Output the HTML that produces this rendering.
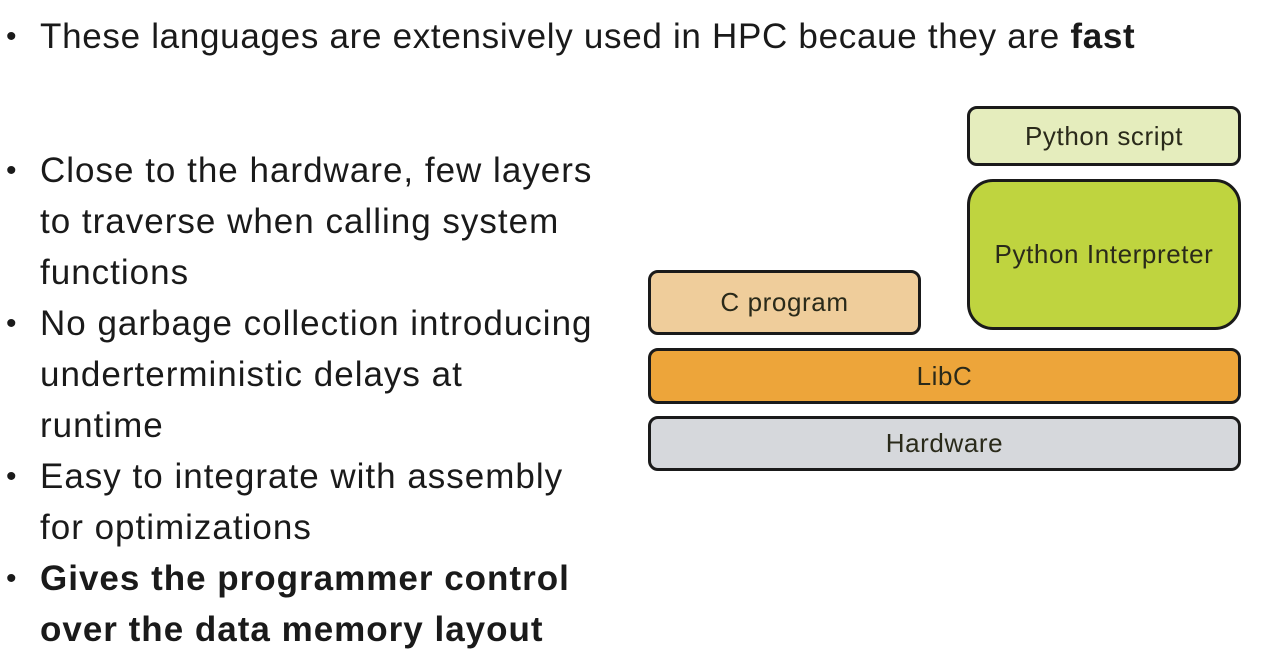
<!DOCTYPE html>
<html><head><style>
body{margin:0;width:1264px;height:666px;background:#fff;position:relative;overflow:hidden;font-family:"Liberation Sans",sans-serif;color:#1a1a1a}
.l{position:absolute;left:40px;font-size:35px;letter-spacing:1px;line-height:51px;white-space:nowrap}
.b{position:absolute;left:6px;font-size:30px;line-height:51px}
.box{position:absolute;box-sizing:border-box;border:3px solid #1a1a1a;border-radius:10px;display:flex;align-items:center;justify-content:center;font-size:26px;letter-spacing:0.6px;color:#2a2a1a}
</style></head><body>
<div class="b" style="top:11px">•</div><div class="l" style="top:11px;letter-spacing:0.7px">These languages are extensively used in HPC becaue they are <b>fast</b></div>
<div class="b" style="top:145px">•</div><div class="l" style="top:145px">Close to the hardware, few layers</div>
<div class="l" style="top:196px">to traverse when calling system</div>
<div class="l" style="top:247px">functions</div>
<div class="b" style="top:298px">•</div><div class="l" style="top:298px">No garbage collection introducing</div>
<div class="l" style="top:349px">underterministic delays at</div>
<div class="l" style="top:400px">runtime</div>
<div class="b" style="top:451px">•</div><div class="l" style="top:451px">Easy to integrate with assembly</div>
<div class="l" style="top:502px">for optimizations</div>
<div class="b" style="top:553px">•</div><div class="l" style="top:553px;font-weight:bold">Gives the programmer control</div>
<div class="l" style="top:604px;font-weight:bold">over the data memory layout</div>

<div class="box" style="left:967px;top:106px;width:274px;height:60px;background:#e5edbd">Python script</div>
<div class="box" style="left:967px;top:179px;width:274px;height:151px;background:#bfd43f;border-radius:26px">Python Interpreter</div>
<div class="box" style="left:648px;top:270px;width:273px;height:65px;background:#efcd9b">C program</div>
<div class="box" style="left:648px;top:348px;width:593px;height:56px;background:#eda53a">LibC</div>
<div class="box" style="left:648px;top:416px;width:593px;height:55px;background:#d6d8dc">Hardware</div>
</body></html>
